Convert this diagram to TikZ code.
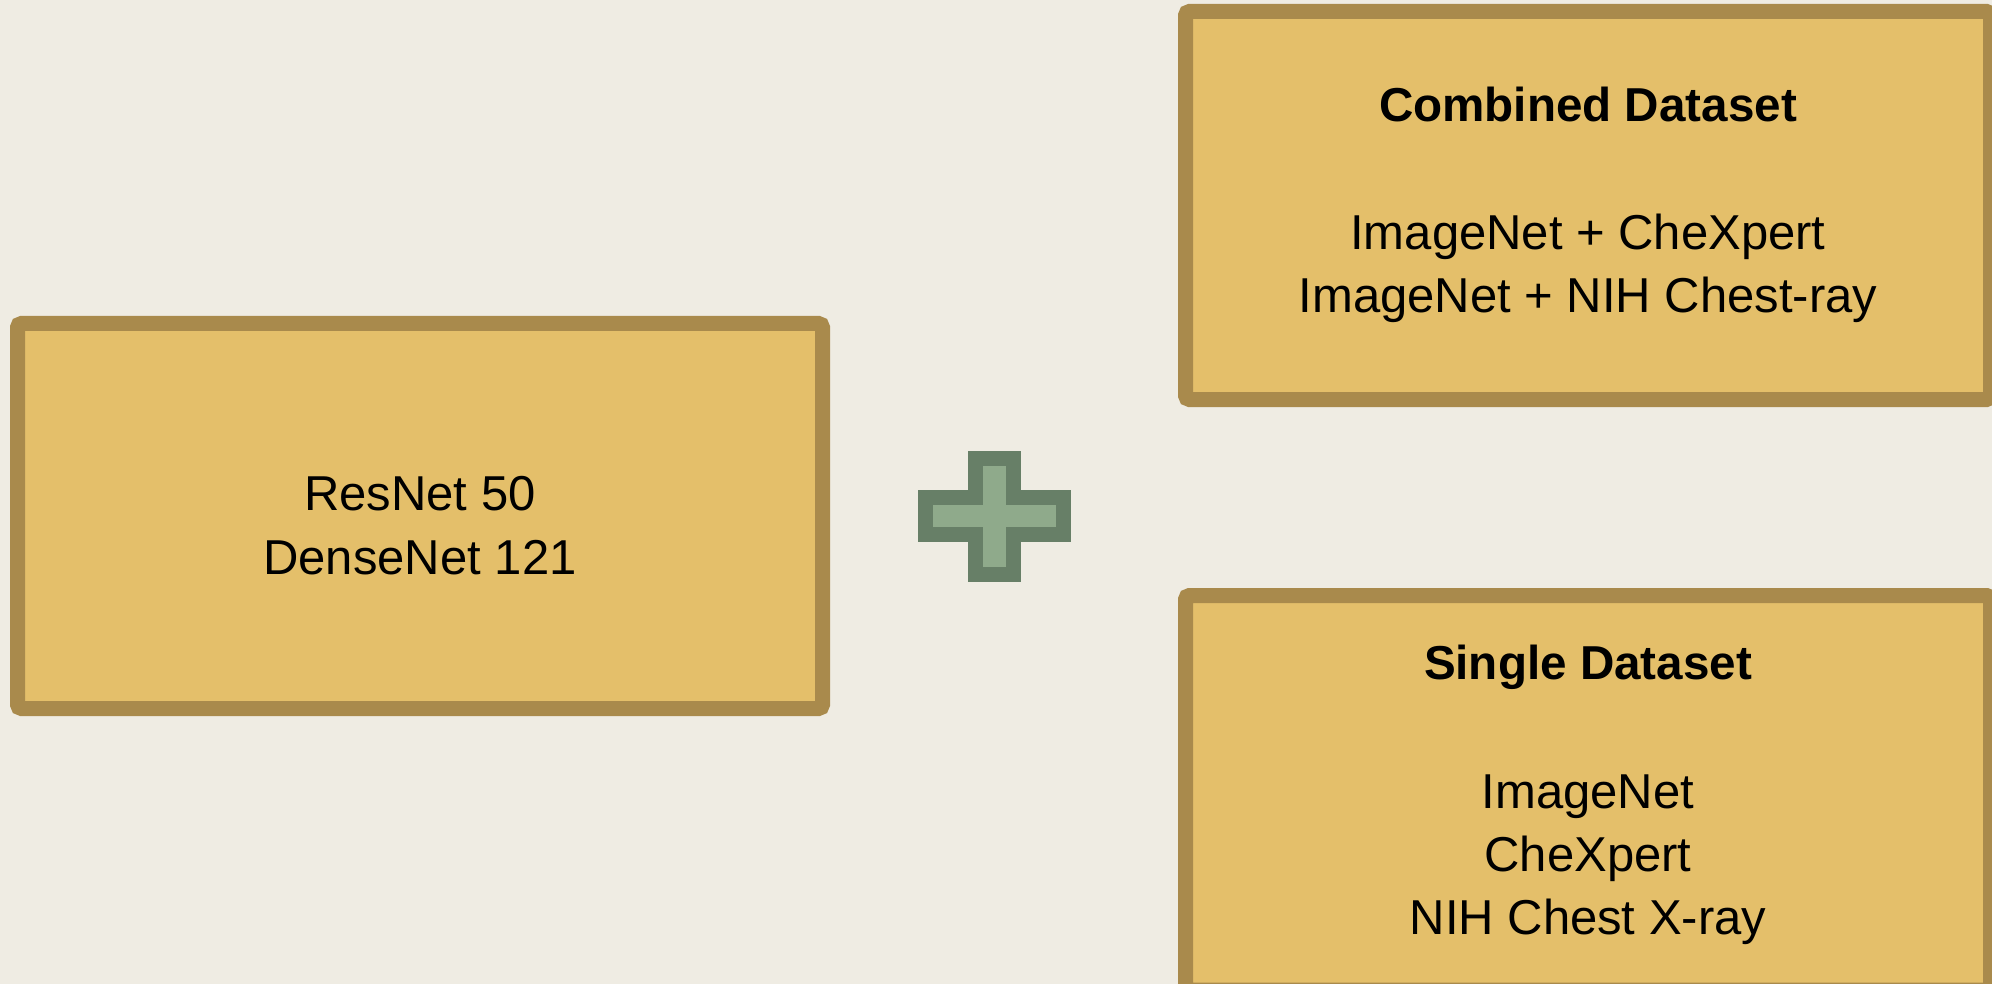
\documentclass[tikz,border=0pt]{standalone}
\usepackage{fontspec}
\setmainfont{Liberation Sans}
\definecolor{bgcol}{RGB}{239,236,227}
\definecolor{boxfill}{RGB}{228,191,106}
\definecolor{boxedge}{RGB}{169,138,76}
\definecolor{plusfill}{RGB}{143,170,139}
\definecolor{plusedge}{RGB}{103,127,103}
\begin{document}
\begin{tikzpicture}[x=0.5pt,y=-0.5pt,
  panel/.style={draw=boxedge,fill=boxfill,line width=7.5pt,rounded corners=2pt},
  txt/.style={anchor=base,inner sep=0pt,font=\fontsize{24.5pt}{31.5pt}\selectfont},
  ttl/.style={txt,font=\fontsize{23.8pt}{31.5pt}\selectfont\bfseries}]
\useasboundingbox (0,0) rectangle (1992,984);
\fill[bgcol] (0,0) rectangle (1992,984);
\begin{scope}
\clip (0,0) rectangle (1992,984);
% model box
\draw[panel] (17.5,323.5) rectangle (822.5,708.5);
\node[txt] (resnet) at (420,510) {ResNet 50};
\node[txt] (densenet) at (420,574) {DenseNet 121};
% combined dataset box
\draw[panel] (1185.5,11.5) rectangle (1990.5,399.5);
\node[ttl] (combtitle) at (1588,122) {Combined Dataset};
\node[txt] (comb1) at (1588,250) {ImageNet + CheXpert};
\node[txt] (comb2) at (1588,313) {ImageNet + NIH Chest-ray};
% single dataset box
\draw[panel] (1185.5,595.5) rectangle (1990.5,990);
\node[ttl] (singtitle) at (1588,679) {Single Dataset};
\node[txt] (sing1) at (1588,808) {ImageNet};
\node[txt] (sing2) at (1588,871) {CheXpert};
\node[txt] (sing3) at (1588,934) {NIH Chest X-ray};
\end{scope}
% plus sign
\draw[draw=plusedge,fill=plusfill,line width=7.5pt,miter limit=10]
  (975.5,458.5) -- (1013.5,458.5) -- (1013.5,497.5) -- (1063.5,497.5)
  -- (1063.5,534.5) -- (1013.5,534.5) -- (1013.5,574.5) -- (975.5,574.5)
  -- (975.5,534.5) -- (925.5,534.5) -- (925.5,497.5) -- (975.5,497.5) -- cycle;
\end{tikzpicture}
\end{document}
